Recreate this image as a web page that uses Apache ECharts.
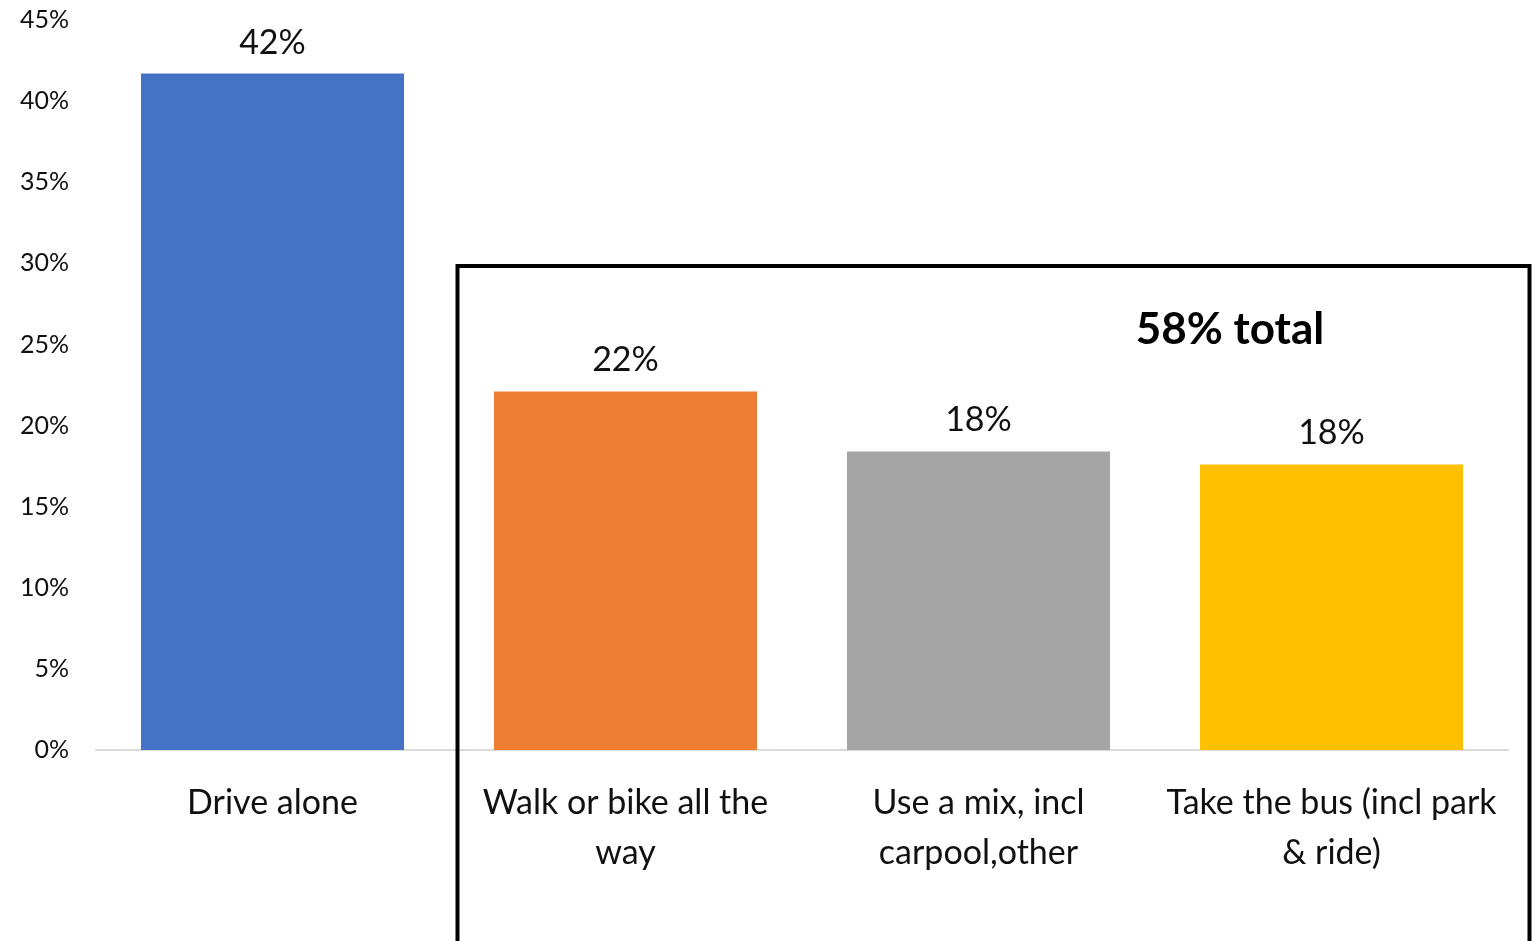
<!DOCTYPE html>
<html>
<head>
<meta charset="utf-8">
<script src="https://cdn.jsdelivr.net/npm/echarts@6/dist/echarts.min.js"></script>
<style>
  html, body { margin: 0; padding: 0; background: #ffffff; }
  #chart { width: 1538px; height: 941px; }
</style>
</head>
<body>
<div id="chart"></div>
<script>
// Commute mode shares
const categories = [
  'Drive alone',
  'Walk or bike all the\nway',
  'Use a mix, incl\ncarpool,other',
  'Take the bus (incl park\n& ride)'
];
const shares = [41.7, 22.1, 18.4, 17.6];
const barColors = ['#4472C4', '#ED7D31', '#A5A5A5', '#FFC000'];
const yTicks = [0, 5, 10, 15, 20, 25, 30, 35, 40, 45];
const groupNote = '58% total';

const FONT = 'Lato, "Open Sans", sans-serif';

const chart = echarts.init(document.getElementById('chart'), null, { renderer: 'canvas' });

chart.setOption({
  animation: false,
  backgroundColor: '#ffffff',
  grid: { left: 96, right: 30, top: 20, bottom: 191, containLabel: false },
  xAxis: {
    type: 'category',
    data: categories,
    axisLine: { show: true, lineStyle: { color: '#d9d9d9', width: 2 } },
    axisTick: { show: false },
    axisLabel: {
      interval: 0,
      margin: 28,
      color: '#111111',
      fontFamily: FONT,
      fontSize: 34,
      lineHeight: 50
    }
  },
  yAxis: {
    type: 'value',
    min: yTicks[0],
    max: yTicks[yTicks.length - 1],
    interval: 5,
    axisLine: { show: false },
    axisTick: { show: false },
    splitLine: { show: false },
    axisLabel: {
      margin: 27,
      color: '#111111',
      fontFamily: FONT,
      fontSize: 25,
      formatter: v => v + '%'
    }
  },
  series: [{
    type: 'bar',
    data: shares.map((v, i) => ({ value: v, itemStyle: { color: barColors[i] } })),
    barWidth: '74.5%',
    label: {
      show: true,
      position: 'top',
      distance: 14,
      color: '#111111',
      fontFamily: FONT,
      fontSize: 34,
      formatter: p => Math.round(p.value) + '%'
    }
  }],
  graphic: [
    {
      type: 'rect',
      shape: { x: 457.5, y: 266, width: 1072, height: 720 },
      style: { fill: 'none', stroke: '#000000', lineWidth: 4 },
      z: 100
    },
    {
      type: 'text',
      x: 1230,
      y: 330,
      style: {
        text: groupNote,
        fill: '#000000',
        font: 'bold 44px ' + FONT,
        textAlign: 'center',
        textVerticalAlign: 'middle'
      },
      z: 100
    }
  ]
});
</script>
</body>
</html>
